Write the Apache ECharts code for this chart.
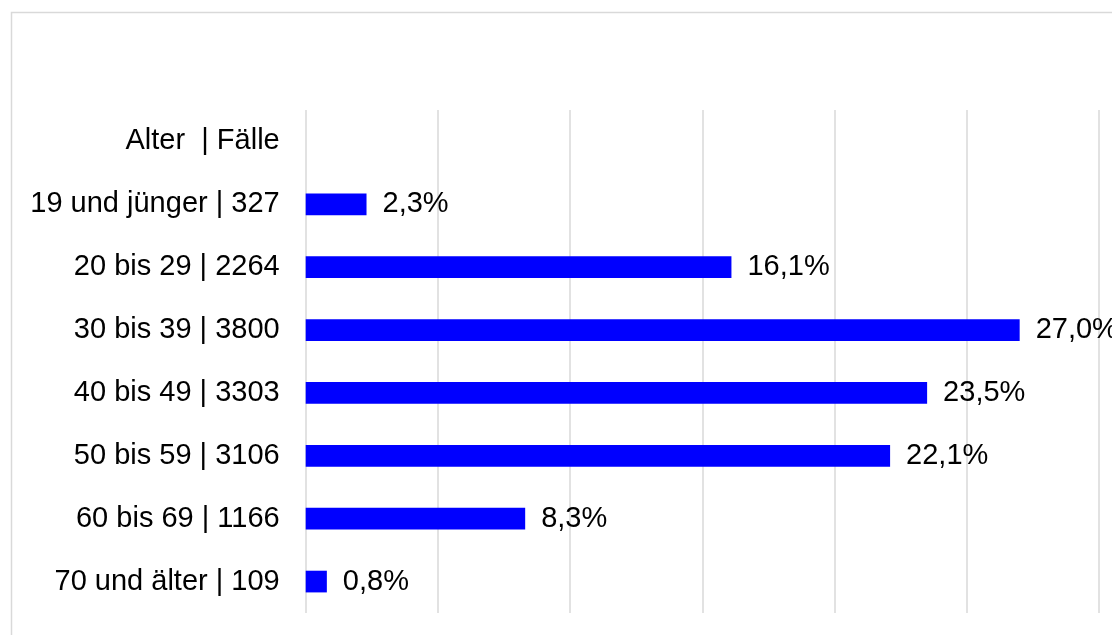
<!DOCTYPE html>
<html>
<head>
<meta charset="utf-8">
<script src="https://cdn.jsdelivr.net/npm/echarts@6/dist/echarts.min.js"></script>
<style>
  html, body { margin: 0; padding: 0; background: #ffffff; }
  #chart { width: 1112px; height: 635px; }
</style>
</head>
<body>
<div id="chart"></div>
<script>
// Age groups with case counts; the header row carries no bar
const categories = [
  'Alter  | Fälle',
  '19 und jünger | 327',
  '20 bis 29 | 2264',
  '30 bis 39 | 3800',
  '40 bis 49 | 3303',
  '50 bis 59 | 3106',
  '60 bis 69 | 1166',
  '70 und älter | 109'
];
// Share of cases in percent
const shares = [null, 2.3, 16.1, 27.0, 23.5, 22.1, 8.3, 0.8];

const FONT = '"Liberation Sans", Arial, sans-serif';

const chart = echarts.init(document.getElementById('chart'), null, { renderer: 'canvas' });
chart.setOption({
  animation: false,
  backgroundColor: '#ffffff',
  textStyle: { fontFamily: FONT },
  graphic: [{
    type: 'rect',
    silent: true,
    shape: { x: 11.5, y: 12.5, width: 1300, height: 800 },
    style: { fill: 'none', stroke: '#d9d9d9', lineWidth: 1.5 }
  }],
  grid: { left: 305.7, right: 13, top: 110, bottom: 22, containLabel: false },
  xAxis: {
    type: 'value',
    min: 0,
    max: 30,
    interval: 5,
    axisLabel: { show: false },
    axisLine: { show: false },
    axisTick: { show: false },
    splitLine: { show: true, lineStyle: { color: '#d9d9d9', width: 1.5 } }
  },
  yAxis: {
    type: 'category',
    inverse: true,
    data: categories,
    axisLine: { show: false },
    axisTick: { show: false },
    axisLabel: {
      color: '#000000',
      fontSize: 29,
      fontFamily: FONT,
      margin: 26
    }
  },
  series: [{
    type: 'bar',
    data: shares,
    barWidth: 21.7,
    itemStyle: { color: '#0000ff' },
    label: {
      show: true,
      position: 'right',
      distance: 16,
      color: '#000000',
      fontSize: 29,
      fontFamily: FONT,
      formatter: p => p.value == null ? '' : p.value.toFixed(1).replace('.', ',') + '%'
    }
  }]
});
</script>
</body>
</html>
